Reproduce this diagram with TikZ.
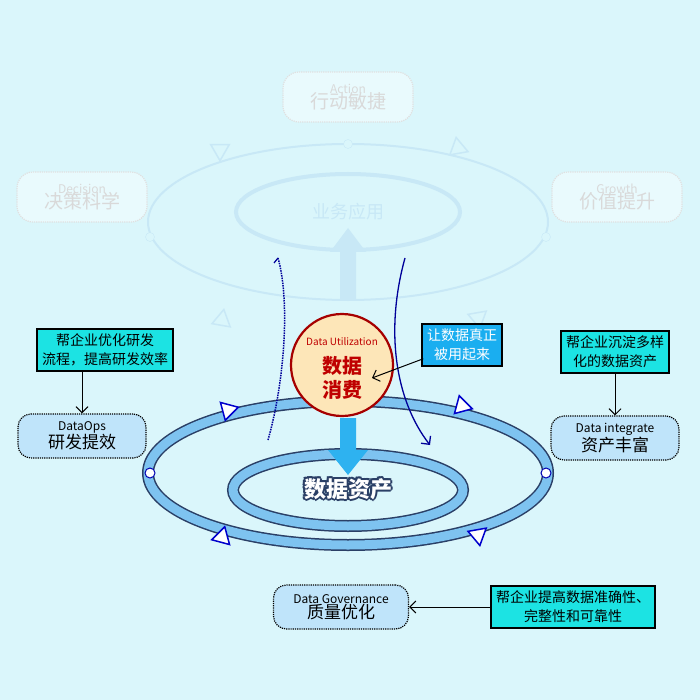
\documentclass[tikz,border=0pt]{standalone}
\usepackage{fontspec}
\setmainfont{Noto Sans CJK SC}
\usetikzlibrary{arrows.meta,positioning,shapes.geometric}
\definecolor{bgc}{HTML}{DAF6FB}
\definecolor{ringc}{HTML}{7EC3F0}
\definecolor{ringd}{HTML}{2A3F66}
\definecolor{tealc}{HTML}{1CE3E3}
\definecolor{skyc}{HTML}{1AAEF0}
\definecolor{tagc}{HTML}{BFE4FA}
\definecolor{fadec}{HTML}{C8E8F6}
\tikzset{
  tipbox/.style={draw=black,line width=1.5pt,fill=tealc,align=center,font=\fontsize{14}{19}\selectfont,inner sep=5pt},
  tag/.style={draw=black,densely dotted,line width=1.2pt,fill=tagc,rounded corners=13pt,align=center,minimum width=128pt,minimum height=44pt,inner sep=2pt},
  ghost/.style={draw=black!12,densely dotted,line width=1.2pt,rounded corners=16pt,fill=white!40!bgc,text=black!15,align=center,minimum width=130pt,minimum height=50pt},
  tri/.style={draw=blue!80!black,line width=1.5pt,fill=white,isosceles triangle,isosceles triangle apex angle=60,minimum size=16pt,inner sep=0pt},
  gtri/.style={draw=fadec,line width=1.5pt,fill=bgc,isosceles triangle,isosceles triangle apex angle=60,minimum size=16pt,inner sep=0pt},
  dot/.style={circle,draw=blue!70!black,fill=white,line width=1pt,minimum size=10pt,inner sep=0pt}
}
\begin{document}
\begin{tikzpicture}[x=1pt,y=-1pt]
  \fill[bgc] (0,0) rectangle (700,700);
  \useasboundingbox (0,0) rectangle (700,700);

  % faded upper loop
  \draw[fadec,line width=2pt] (348,222) ellipse [x radius=200,y radius=78];
  \draw[fadec,line width=4pt] (348,212) ellipse [x radius=112,y radius=38];
  \node[text=fadec,font=\fontsize{18}{18}\selectfont] (app) at (348,212) {业务应用};
  \foreach \p/\r in {{(220,150)}/30,{(458,148)}/-20,{(222,320)}/200,{(478,318)}/160}
    \node[gtri,rotate=\r] at \p {};
  \foreach \p in {{(348,144)},{(150,237)},{(546,237)}}
    \node[circle,draw=fadec,fill=bgc,minimum size=9pt,inner sep=0pt] at \p {};
  \fill[fadec] (340,300) -- (340,252) -- (330,252) -- (348,228) -- (366,252) -- (356,252) -- (356,300) -- cycle;

  \node[ghost] (act) at (348,97) {\fontsize{12}{13}\selectfont Action\\[-2pt]\fontsize{19}{20}\selectfont 行动敏捷};
  \node[ghost] (dec) at (82,197) {\fontsize{12}{13}\selectfont Decision\\[-2pt]\fontsize{19}{20}\selectfont 决策科学};
  \node[ghost] (gro) at (617,197) {\fontsize{12}{13}\selectfont Growth\\[-2pt]\fontsize{19}{20}\selectfont 价值提升};

  % main rings
  \draw[ringd,line width=12pt] (348,473) ellipse [x radius=200,y radius=72];
  \draw[ringc,line width=9pt] (348,473) ellipse [x radius=200,y radius=72];
  \draw[ringd,line width=12pt] (348,490) ellipse [x radius=115,y radius=36];
  \draw[ringc,line width=9pt] (348,490) ellipse [x radius=115,y radius=36];
  \node[dot] at (150,473) {};
  \node[dot] at (546,473) {};
  \node[tri,rotate=15] at (228,410) {};
  \node[tri,rotate=-15] at (462,406) {};
  \node[tri,rotate=195] at (222,537) {};
  \node[tri,rotate=160] at (478,535) {};

  % curves
  \draw[blue!60!black,densely dotted,line width=1.5pt] (268,440) .. controls (285,380) and (290,300) .. (278,258);
  \draw[blue!60!black,line width=1.2pt] (278,258) -- (274,263);
  \draw[blue!60!black,line width=1.3pt,-{Straight Barb[length=6pt]}] (405,258) .. controls (385,330) and (395,400) .. (430,445);

  \draw[fill=skyc!80!ringc,draw=none] (340,418) -- (340,450) -- (328,450) -- (348,475) -- (368,450) -- (356,450) -- (356,418) -- cycle;
  \node[circle,draw=red!65!black,line width=2.2pt,fill=yellow!30!orange!25!white,minimum size=102pt,inner sep=0pt] (use) at (342,365) {};
  \node[text=red!75!black,font=\fontsize{10}{11}\selectfont] at (342,342) {Data Utilization};
  \node[text=red!75!black,font=\fontsize{20}{24}\bfseries,align=center] (usetxt) at (342,378) {数据\\消费};

  \foreach \dx/\dy in {-2/0,2/0,0/-2,0/2,-1.5/-1.5,1.5/1.5,-1.5/1.5,1.5/-1.5}
    \node[font=\fontsize{22}{22}\bfseries,text=ringd] at (348+\dx,489+\dy) {数据资产};
  \node[font=\fontsize{22}{22}\bfseries,text=white] (asset) at (348,489) {数据资产};

  % boxes
  \node[tipbox,fill=skyc,text=white] (real) at (462,345) {让数据真正\\被用起来};
  \draw[-{Straight Barb[length=6pt]},line width=1pt] (real.south west) ++(2,-8) -- (372,378);

  \node[tipbox] (devtip) at (105,350) {帮企业优化研发\\流程，提高研发效率};
  \node[tag] (ops) at (82,436) {\fontsize{12}{13}\selectfont DataOps\\\fontsize{17}{19}\selectfont 研发提效};
  \draw[-{Straight Barb[length=6pt]},line width=1pt] (devtip.south -| ops) -- (ops);

  \node[tipbox] (inttip) at (615,352) {帮企业沉淀多样\\化的数据资产};
  \node[tag] (integ) at (615,438) {\fontsize{12}{13}\selectfont Data integrate\\\fontsize{17}{19}\selectfont 资产丰富};
  \draw[-{Straight Barb[length=6pt]},line width=1pt] (inttip) -- (integ);

  \node[tipbox] (govtip) at (573,607) {帮企业提高数据准确性、\\完整性和可靠性};
  \node[tag,minimum width=135pt] (gov) at (341,607) {\fontsize{12}{13}\selectfont Data Governance\\\fontsize{17}{19}\selectfont 质量优化};
  \draw[-{Straight Barb[length=6pt]},line width=1pt] (govtip) -- (gov);
\end{tikzpicture}
\end{document}
